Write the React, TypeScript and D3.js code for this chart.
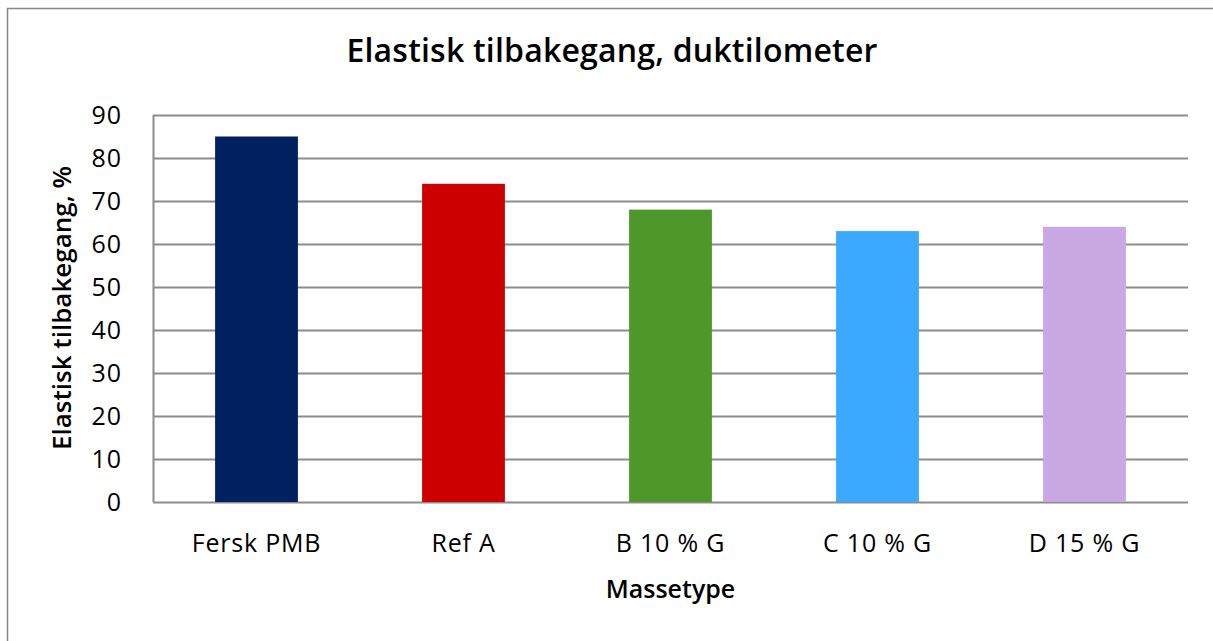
import React from "react";
import * as d3 from "d3";

const categories = ["Fersk PMB", "Ref A", "B 10 % G", "C 10 % G", "D 15 % G"];
const values = [85, 74, 68, 63, 64];
const colors = ["#002060", "#CC0000", "#4E972A", "#3AA9FF", "#CAA8E4"];
const yTicks = [0, 10, 20, 30, 40, 50, 60, 70, 80, 90];

const width = 1213;
const height = 641;
const margin = { top: 115, right: 25, bottom: 139, left: 153 };
const font = "'Open Sans', 'DejaVu Sans', sans-serif";

function App() {
  const innerW = width - margin.left - margin.right;
  const innerH = height - margin.top - margin.bottom;

  const x = d3.scaleBand().domain(categories).range([0, innerW]).paddingInner(0.6).paddingOuter(0.3);
  const y = d3.scaleLinear().domain([0, 90]).range([innerH, 0]);

  return (
    <svg
      width={width}
      height={height}
      style={{ position: "absolute", left: 0, top: 0, background: "#fff" }}
    >
      <rect x={7.5} y={8.5} width={width} height={height} fill="#fff" stroke="#888" strokeWidth={1.5} />
      <text x={612} y={62} textAnchor="middle" fontFamily={font} fontSize={32} fontWeight={600} letterSpacing={0.2} fill="#000">
        Elastisk tilbakegang, duktilometer
      </text>
      <g transform={`translate(${margin.left},${margin.top})`}>
        {yTicks.map((t) => (
          <g key={t}>
            <line x1={0} x2={innerW} y1={Math.round(y(t)) + 0.5} y2={Math.round(y(t)) + 0.5} stroke="#8c8c8c" strokeWidth={2} />
            <text x={-31} y={y(t)} dy="0.36em" textAnchor="end" fontFamily={font} fontSize={25} letterSpacing={1} fill="#000">
              {t}
            </text>
          </g>
        ))}
        <line x1={0.5} x2={0.5} y1={0} y2={innerH} stroke="#8c8c8c" strokeWidth={2} />
        {categories.map((c, i) => (
          <rect
            key={c}
            x={x(c)}
            y={y(values[i])}
            width={x.bandwidth()}
            height={innerH - y(values[i])}
            fill={colors[i]}
          />
        ))}
        {categories.map((c) => (
          <text
            key={c}
            x={(x(c) as number) + x.bandwidth() / 2}
            y={innerH + 50}
            textAnchor="middle"
            fontFamily={font}
            fontSize={25}
            letterSpacing={0.8}
            fill="#000"
          >
            {c}
          </text>
        ))}
        <text x={innerW / 2} y={innerH + 96} textAnchor="middle" fontFamily={font} fontSize={25} fontWeight={600} fill="#000">
          Massetype
        </text>
      </g>
      <text
        transform={`translate(71,308) rotate(-90)`}
        textAnchor="middle"
        fontFamily={font}
        fontSize={26}
        fontWeight={600}
        fill="#000"
      >
        Elastisk tilbakegang, %
      </text>
    </svg>
  );
}

export default App;
